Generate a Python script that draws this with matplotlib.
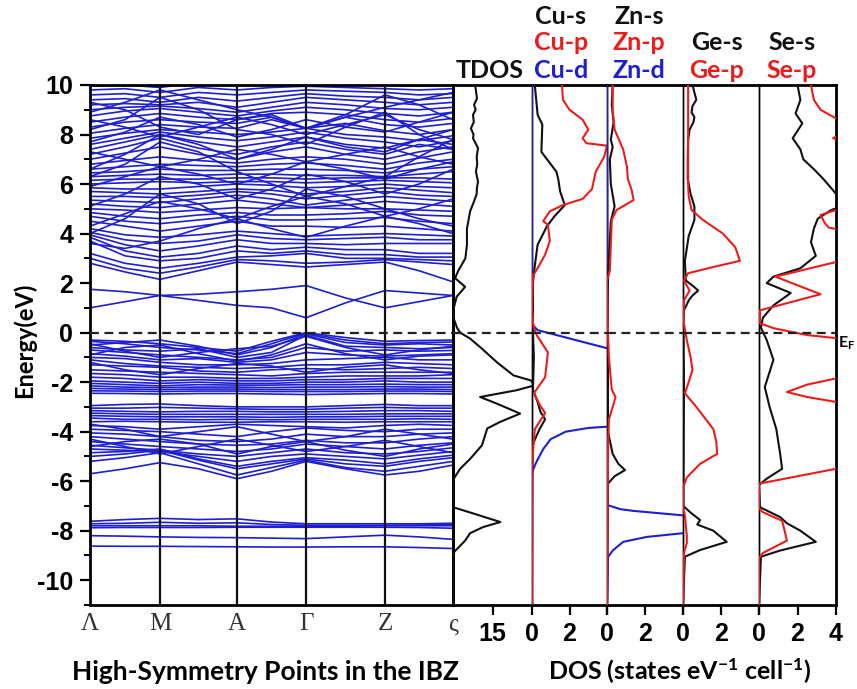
import numpy as np
import matplotlib
matplotlib.use("Agg")
import matplotlib.pyplot as plt
from matplotlib.ticker import MultipleLocator, FixedLocator
from matplotlib.font_manager import FontProperties

plt.rcParams['font.family'] = ['Liberation Sans', 'DejaVu Sans']
plt.rcParams['axes.unicode_minus'] = False
plt.rcParams['mathtext.fontset'] = 'custom'
plt.rcParams['mathtext.rm'] = 'Lato:bold'
plt.rcParams['mathtext.it'] = 'Lato:bold'
plt.rcParams['mathtext.bf'] = 'Lato:bold'
plt.rcParams['mathtext.default'] = 'rm'

BLUE = '#1e1ed2'
RED = '#ec1c1c'
BLACK = '#111111'

# ---------------- band structure ----------------
hs_labels = ['Λ', 'M', 'A', 'Γ', 'Z', 'ς']
hs_k = [0.0, 0.70, 1.47, 2.16, 2.95, 3.63]

# energies (eV) at Λ, mid, M, mid, A, mid, Γ, mid, Z, mid, ς
bands_semicore = [
    [-7.62, -7.55, -7.50, -7.55, -7.52, -7.65, -7.72, -7.72, -7.72, -7.72, -7.70],
    [-7.72, -7.70, -7.66, -7.70, -7.68, -7.75, -7.78, -7.78, -7.78, -7.77, -7.75],
    [-7.80, -7.80, -7.80, -7.80, -7.82, -7.82, -7.82, -7.82, -7.80, -7.80, -7.80],
    [-7.88, -7.87, -7.87, -7.87, -7.86, -7.86, -7.86, -7.86, -7.86, -7.87, -7.90],
    [-8.20, -8.22, -8.25, -8.27, -8.28, -8.30, -8.32, -8.25, -8.18, -8.25, -8.35],
    [-8.62, -8.63, -8.63, -8.64, -8.65, -8.66, -8.66, -8.65, -8.65, -8.68, -8.72],
]

bands_valence = [
    [-0.30, -0.35, -0.45, -0.60, -0.75, -0.35, 0.00, -0.20, -0.35, -0.32, -0.30],
    [-0.35, -0.45, -0.60, -0.70, -0.85, -0.45, -0.02, -0.30, -0.45, -0.40, -0.38],
    [-0.50, -0.40, -0.30, -0.55, -0.90, -0.60, -0.05, -0.40, -0.50, -0.45, -0.50],
    [-0.60, -0.70, -0.75, -0.65, -1.00, -0.80, -0.10, -0.55, -0.60, -0.65, -0.60],
    [-0.45, -0.75, -1.00, -0.80, -0.65, -0.55, -0.15, -0.60, -0.90, -0.70, -0.55],
    [-0.70, -0.80, -0.90, -1.00, -1.10, -1.00, -0.60, -0.75, -0.70, -0.75, -0.72],
    [-0.90, -0.60, -0.50, -0.85, -1.15, -0.90, -0.45, -0.85, -1.10, -0.95, -0.90],
    [-0.85, -0.95, -1.10, -1.05, -1.20, -1.10, -0.80, -0.90, -0.95, -0.90, -0.85],
    [-1.00, -1.05, -1.20, -1.30, -1.30, -1.25, -1.10, -1.05, -1.00, -1.10, -1.10],
    [-1.10, -1.25, -1.35, -1.40, -1.45, -1.40, -1.30, -1.30, -1.20, -1.25, -1.30],
    [-1.20, -1.50, -1.70, -1.45, -1.25, -1.35, -1.60, -1.40, -1.30, -1.50, -1.65],
    [-1.30, -1.35, -1.40, -1.55, -1.60, -1.50, -1.45, -1.50, -1.45, -1.40, -1.45],
    [-1.50, -1.55, -1.60, -1.65, -1.70, -1.75, -1.65, -1.60, -1.60, -1.60, -1.60],
    [-1.65, -1.70, -1.80, -1.80, -1.85, -1.85, -1.80, -1.75, -1.75, -1.75, -1.70],
    [-1.80, -1.85, -1.95, -1.90, -1.95, -1.95, -1.90, -1.90, -1.85, -1.85, -1.85],
    [-1.95, -2.00, -2.05, -2.00, -2.05, -2.05, -2.00, -2.00, -1.95, -2.00, -2.00],
    [-2.05, -2.10, -2.15, -2.10, -2.12, -2.12, -2.10, -2.10, -2.08, -2.10, -2.10],
    [-2.15, -2.20, -2.22, -2.20, -2.20, -2.22, -2.20, -2.20, -2.18, -2.20, -2.20],
    [-2.25, -2.28, -2.30, -2.28, -2.28, -2.30, -2.30, -2.30, -2.28, -2.28, -2.30],
    [-2.35, -2.36, -2.38, -2.36, -2.36, -2.38, -2.38, -2.38, -2.36, -2.36, -2.38],
    [-2.45, -2.46, -2.48, -2.46, -2.46, -2.48, -2.50, -2.48, -2.46, -2.46, -2.48],
    [-2.95, -2.90, -2.88, -2.95, -3.00, -3.00, -3.00, -2.95, -2.90, -2.95, -2.95],
    [-3.05, -3.05, -3.02, -3.05, -3.08, -3.10, -3.10, -3.05, -3.02, -3.05, -3.05],
    [-3.15, -3.18, -3.20, -3.18, -3.18, -3.20, -3.20, -3.18, -3.15, -3.15, -3.18],
    [-3.25, -3.28, -3.30, -3.30, -3.30, -3.30, -3.30, -3.30, -3.28, -3.28, -3.28],
    [-3.35, -3.38, -3.40, -3.40, -3.40, -3.42, -3.40, -3.40, -3.38, -3.38, -3.38],
    [-3.45, -3.50, -3.50, -3.52, -3.50, -3.52, -3.50, -3.50, -3.50, -3.48, -3.50],
    [-3.60, -3.58, -3.60, -3.62, -3.62, -3.60, -3.60, -3.62, -3.60, -3.60, -3.60],
    [-3.70, -3.90, -4.20, -4.00, -3.80, -4.10, -4.40, -4.20, -3.90, -4.10, -4.30],
    [-3.75, -3.80, -3.90, -3.80, -3.70, -3.75, -3.80, -3.85, -3.75, -3.70, -3.75],
    [-3.90, -3.95, -4.00, -4.10, -4.20, -4.00, -3.85, -3.95, -4.00, -3.90, -3.90],
    [-4.05, -4.10, -4.20, -4.35, -4.40, -4.30, -4.10, -4.20, -4.20, -4.10, -4.05],
    [-4.20, -4.30, -4.40, -4.50, -4.55, -4.50, -4.35, -4.45, -4.45, -4.30, -4.20],
    [-4.30, -4.60, -4.90, -4.60, -4.30, -4.55, -4.80, -4.60, -4.35, -4.60, -4.85],
    [-4.40, -4.50, -4.60, -4.70, -4.80, -4.70, -4.50, -4.60, -4.70, -4.55, -4.45],
    [-4.60, -4.40, -4.30, -4.50, -4.90, -4.60, -4.40, -4.75, -5.00, -4.70, -4.50],
    [-4.55, -4.65, -4.75, -4.90, -5.00, -4.85, -4.70, -4.85, -4.90, -4.80, -4.65],
    [-4.70, -4.75, -4.80, -5.00, -5.20, -5.00, -4.90, -5.00, -5.10, -4.95, -4.80],
    [-4.85, -4.80, -4.70, -5.10, -5.40, -5.20, -5.05, -5.15, -5.30, -5.10, -4.95],
    [-5.00, -4.90, -4.75, -5.15, -5.50, -5.30, -5.10, -5.30, -5.40, -5.20, -5.05],
    [-5.20, -5.05, -4.85, -5.30, -5.75, -5.45, -5.15, -5.45, -5.60, -5.40, -5.20],
    [-5.70, -5.50, -5.25, -5.50, -5.90, -5.60, -5.20, -5.50, -5.75, -5.60, -5.35],
]

bands_conduction = [
    [1.00, 1.25, 1.50, 1.30, 1.10, 1.00, 0.60, 1.20, 1.70, 1.60, 1.50],
    [1.75, 1.65, 1.50, 1.55, 1.65, 1.75, 1.90, 1.40, 1.00, 1.25, 1.50],
    [2.80, 2.45, 2.15, 2.50, 2.85, 2.75, 2.65, 2.75, 2.85, 2.50, 2.05],
    [3.00, 2.60, 2.40, 2.65, 2.95, 2.90, 2.80, 2.85, 2.95, 2.85, 2.75],
    [3.20, 2.80, 2.60, 2.80, 3.05, 3.10, 3.20, 3.00, 3.00, 2.95, 2.90],
    [3.60, 3.40, 3.70, 4.20, 4.60, 4.20, 3.85, 4.30, 4.70, 4.40, 4.00],
    [3.70, 3.10, 2.90, 3.00, 3.30, 3.20, 3.30, 3.15, 3.15, 3.05, 3.05],
    [3.85, 3.30, 3.05, 3.20, 3.50, 3.35, 3.45, 3.35, 3.35, 3.20, 3.20],
    [3.95, 3.55, 3.30, 3.50, 3.75, 3.60, 3.60, 3.55, 3.60, 3.60, 3.60],
    [4.05, 3.75, 3.60, 3.70, 3.95, 3.80, 3.75, 3.80, 3.85, 3.75, 3.75],
    [4.20, 3.95, 3.85, 3.95, 4.10, 4.00, 3.90, 3.95, 4.00, 3.95, 3.90],
    [4.30, 4.80, 5.30, 5.00, 4.60, 5.10, 5.50, 5.20, 4.70, 5.00, 5.40],
    [4.50, 4.30, 4.10, 4.30, 4.50, 4.30, 4.30, 4.25, 4.30, 4.20, 4.10],
    [4.70, 4.50, 4.40, 4.55, 4.70, 4.55, 4.55, 4.60, 4.65, 4.50, 4.40],
    [4.85, 4.70, 4.60, 4.75, 4.85, 4.75, 4.75, 4.80, 4.90, 4.75, 4.70],
    [5.00, 4.95, 4.85, 4.95, 5.05, 5.00, 5.05, 5.00, 5.00, 4.95, 4.90],
    [5.10, 5.60, 6.30, 6.00, 5.40, 5.80, 6.40, 6.10, 5.60, 6.00, 6.60],
    [5.20, 5.10, 5.05, 5.20, 5.35, 5.20, 5.05, 5.15, 5.30, 5.20, 5.10],
    [5.35, 5.30, 5.25, 5.40, 5.55, 5.40, 5.15, 5.35, 5.50, 5.40, 5.30],
    [5.50, 5.50, 5.45, 5.55, 5.70, 5.60, 5.40, 5.55, 5.70, 5.55, 5.50],
    [5.70, 5.65, 5.60, 5.70, 5.80, 5.75, 5.60, 5.70, 5.85, 5.75, 5.65],
    [5.85, 5.80, 5.80, 5.90, 6.00, 5.95, 5.85, 5.90, 6.00, 5.90, 5.85],
    [5.90, 6.30, 6.70, 6.40, 6.00, 6.40, 6.90, 6.60, 6.20, 6.60, 6.90],
    [6.00, 6.05, 6.10, 6.05, 6.10, 6.10, 6.05, 6.10, 6.15, 6.10, 6.05],
    [6.15, 6.20, 6.20, 6.20, 6.25, 6.25, 6.20, 6.25, 6.25, 6.25, 6.20],
    [6.30, 6.35, 6.40, 6.35, 6.40, 6.40, 6.35, 6.35, 6.30, 6.40, 6.50],
    [6.45, 6.50, 6.60, 6.55, 6.55, 6.60, 6.60, 6.55, 6.45, 6.60, 6.70],
    [6.60, 6.70, 6.80, 6.75, 6.70, 6.80, 6.85, 6.75, 6.60, 6.85, 7.00],
    [6.60, 7.20, 8.00, 7.60, 7.00, 7.40, 7.90, 7.50, 7.30, 7.80, 8.20],
    [6.80, 6.95, 7.10, 6.95, 6.85, 7.00, 7.10, 7.00, 6.80, 7.05, 7.30],
    [7.00, 7.25, 7.50, 7.20, 7.00, 7.30, 7.50, 7.20, 7.00, 7.30, 7.50],
    [7.20, 7.50, 7.85, 7.45, 7.20, 7.50, 7.70, 7.40, 7.20, 7.60, 7.40],
    [7.30, 7.00, 6.70, 7.00, 7.40, 7.20, 6.90, 7.20, 7.50, 7.10, 6.80],
    [7.40, 7.70, 8.00, 7.70, 7.50, 7.70, 7.90, 7.60, 7.45, 7.80, 7.60],
    [7.60, 7.85, 8.10, 7.90, 7.75, 7.90, 8.10, 7.85, 7.70, 7.50, 7.75],
    [7.70, 8.10, 8.70, 8.40, 7.90, 8.20, 8.60, 8.30, 8.10, 8.50, 8.90],
    [7.85, 8.05, 8.20, 8.10, 8.00, 8.10, 8.25, 8.00, 7.90, 7.75, 7.95],
    [8.05, 8.25, 8.40, 8.30, 8.25, 8.60, 8.25, 8.45, 8.15, 8.00, 8.20],
    [8.30, 8.50, 8.60, 8.50, 8.45, 8.70, 8.25, 8.70, 8.40, 8.30, 8.45],
    [8.50, 8.70, 8.85, 8.70, 8.60, 8.85, 8.90, 8.80, 8.60, 8.50, 8.65],
    [8.60, 8.30, 7.90, 8.30, 8.70, 8.40, 8.00, 8.40, 8.80, 8.20, 7.80],
    [8.75, 8.95, 9.05, 8.90, 8.75, 8.95, 9.10, 9.00, 8.85, 8.75, 8.90],
    [8.90, 9.30, 9.80, 9.40, 9.00, 8.70, 8.25, 8.70, 9.10, 9.40, 9.70],
    [9.00, 9.10, 9.15, 9.05, 8.90, 9.10, 9.30, 9.20, 9.05, 9.00, 9.10],
    [9.20, 9.25, 9.20, 9.30, 9.10, 9.30, 9.50, 9.40, 9.30, 9.20, 9.30],
    [9.40, 9.45, 9.30, 9.50, 9.35, 9.50, 9.65, 9.55, 9.50, 9.40, 9.50],
    [9.60, 9.65, 9.50, 9.70, 9.60, 9.70, 9.80, 9.75, 9.70, 9.60, 9.65],
    [9.80, 9.85, 9.70, 9.90, 9.80, 9.90, 9.95, 9.90, 9.85, 9.80, 9.85],
    [9.95, 10.0, 9.90, 10.1, 10.0, 10.05, 10.1, 10.05, 10.0, 9.95, 10.0],
    [9.30, 9.00, 8.30, 8.00, 8.60, 8.80, 8.25, 8.80, 9.60, 9.20, 8.60],
    [8.20, 8.60, 9.50, 9.00, 8.20, 8.00, 7.60, 8.30, 8.90, 8.00, 7.40],
    [6.30, 6.80, 7.70, 7.30, 6.50, 6.00, 5.50, 5.90, 6.30, 7.10, 7.80],
    [4.00, 4.60, 5.60, 5.20, 4.40, 4.90, 5.80, 5.50, 5.00, 4.60, 4.30],
]

# ---------------- density of states ----------------
tdos_E = [10.0, 9.7, 9.45, 9.2, 9.0, 8.8, 8.5, 8.25, 8.0, 7.85, 7.6, 7.45, 7.1, 6.8,
          6.5, 6.1, 5.85, 5.6, 5.25, 4.9, 4.2, 3.55, 3.0, 2.5, 2.2, 1.85, 1.45, 1.0,
          0.6, 0.2, 0.0, -0.24, -0.65, -1.2, -1.73, -1.93, -2.13, -2.33, -2.6, -2.87,
          -3.27, -3.6, -3.87, -4.55, -5.1, -5.5, -5.9, -6.1, -7.05, -7.3, -7.65,
          -7.85, -8.1, -8.4, -8.85, -9.0, -11.0]
tdos = [8.4, 8.8, 9.1, 8.0, 8.6, 7.6, 7.9, 6.8, 7.8, 7.6, 8.8, 9.5, 9.0, 9.2,
        8.7, 9.5, 9.1, 9.0, 7.8, 6.5, 5.3, 5.3, 4.7, 2.0, 0.8, 4.6, 1.4, 0.3,
        0.2, 1.5, 2.7, 6.5, 11.0, 16.7, 23.0, 29.5, 31.0, 24.0, 10.3, 16.7,
        25.5, 18.0, 13.0, 11.0, 6.5, 2.7, 0.3, 0.0, 0.0, 7.6, 18.0,
        11.5, 6.5, 4.6, 0.5, 0.0, 0.0]

cu_s_E = [10.0, 8.8, 8.4, 7.3, 6.85, 6.5, 6.2, 5.7, 5.15, 4.7, 4.3, 3.55, 2.7, 2.0,
          0.0, -1.0, -2.3, -2.8, -3.2, -3.5, -3.9, -4.5, -6.0, -11.0]
cu_s = [0.15, 0.3, 0.55, 0.5, 0.95, 1.3, 1.4, 1.5, 1.75, 1.2, 0.8, 0.3, 0.15, 0.05,
        0.05, 0.1, 0.05, 0.3, 0.45, 0.7, 0.4, 0.05, 0.0, 0.0]
cu_p_E = [10.0, 9.4, 9.0, 8.6, 8.2, 7.85, 7.65, 7.55, 7.1, 6.5, 5.8, 5.4, 5.15, 4.9,
          4.5, 4.35, 3.7, 3.15, 2.6, 2.3, 1.0, 0.4, 0.1, -0.1, -0.8, -1.8, -2.45,
          -2.9, -3.25, -3.6, -3.9, -5.3, -11.0]
cu_p = [1.6, 1.65, 2.0, 2.7, 3.0, 2.7, 2.9, 4.0, 3.85, 3.4, 3.2, 2.7, 1.65, 0.95,
        0.6, 0.85, 0.95, 0.7, 0.3, 0.05, 0.0, 0.05, 0.15, 0.25, 0.85, 0.7, 0.1,
        0.4, 0.7, 0.4, 0.15, 0.0, 0.0]
cu_d_E = [10.0, 0.5, 0.3, 0.1, -0.63, -2.0, -3.8, -3.85, -4.0, -4.3, -4.7, -5.2, -5.6, -11.0]
cu_d = [0.0, 0.0, 0.05, 0.3, 4.0, 8.0, 4.0, 3.0, 1.8, 1.0, 0.6, 0.25, 0.02, 0.0]

zn_s_E = [10.0, 9.2, 8.5, 7.8, 7.5, 7.0, 6.0, 5.1, 4.5, 3.0, 2.0, 0.0, -2.0, -4.0,
          -4.9, -5.3, -5.55, -5.8, -6.1, -11.0]
zn_s = [0.3, 0.25, 0.35, 0.2, 0.3, 0.15, 0.2, 0.4, 0.2, 0.1, 0.05, 0.02, 0.05, 0.05,
        0.3, 0.6, 0.95, 0.4, 0.05, 0.0]
zn_p_E = [10.0, 9.0, 8.2, 7.4, 6.7, 6.2, 5.75, 5.35, 4.95, 4.55, 3.5, 2.5, 2.1, 0.0,
          -1.0, -2.3, -2.6, -3.0, -3.5, -5.0, -11.0]
zn_p = [0.3, 0.3, 0.4, 0.85, 1.05, 1.1, 1.3, 1.4, 0.5, 0.25, 0.2, 0.15, 0.0, 0.05,
        0.1, 0.25, 0.45, 0.3, 0.1, 0.05, 0.0]
zn_d_E = [10.0, -6.97, -7.13, -7.2, -7.37, -7.7, -8.1, -8.25, -8.45, -8.8, -9.07, -11.0]
zn_d = [0.0, 0.05, 0.7, 1.4, 3.85, 8.0, 4.0, 2.1, 0.85, 0.3, 0.05, 0.0]

ge_s_E = [10.0, 9.7, 9.4, 9.15, 8.9, 8.7, 8.5, 8.2, 7.8, 7.0, 6.2, 5.6, 5.1, 4.55,
          3.9, 2.9, 2.1, 1.9, 1.7, 1.5, 1.3, 0.9, 0.5, -2.0, -7.0, -7.27, -7.57,
          -7.75, -8.0, -8.45, -8.78, -9.05, -11.0]
ge_s = [0.5, 0.6, 0.7, 0.5, 0.45, 0.6, 0.55, 0.35, 0.27, 0.25, 0.25, 0.4, 0.6, 0.6,
        0.3, 0.1, 0.15, 0.5, 0.8, 0.5, 0.3, 0.05, 0.02, 0.05, 0.02, 0.4, 0.9,
        0.75, 1.6, 2.3, 0.9, 0.1, 0.0]
ge_p_E = [10.0, 6.0, 5.5, 4.95, 4.55, 4.0, 3.45, 2.9, 2.65, 2.4, 2.1, 1.7, 1.3, 0.5,
          -0.3, -1.0, -1.5, -2.0, -2.45, -3.0, -3.5, -3.9, -4.4, -4.9, -5.3, -5.85,
          -6.25, -7.0, -7.4, -7.8, -8.2, -8.5, -8.9, -11.0]
ge_p = [0.27, 0.27, 0.3, 0.45, 1.05, 2.1, 2.75, 3.0, 1.6, 0.27, 0.05, 0.35, 0.05, 0.02,
        0.2, 0.4, 0.5, 0.3, 0.1, 0.7, 1.2, 1.6, 1.75, 1.8, 0.9, 0.2,
        0.0, 0.0, 0.1, 0.15, 0.2, 0.2, 0.05, 0.0]

se_s_E = [10.0, 9.4, 8.85, 8.45, 7.85, 7.4, 7.0, 6.6, 6.2, 5.7, 5.3, 5.1, 4.95, 4.6,
          4.2, 3.65, 3.1, 2.6, 2.26, 2.0, 1.6, 1.1, 0.6, 0.2, -0.3, -1.1, -2.2, -3.0,
          -3.9, -4.9, -5.5, -5.9, -6.15, -7.05, -7.45, -7.7, -8.0, -8.45, -8.8,
          -9.05, -11.0]
se_s = [2.0, 2.15, 1.9, 2.25, 1.75, 2.15, 2.3, 2.85, 3.35, 3.9, 4.3, 4.3, 3.75, 3.05,
        2.85, 2.7, 2.95, 2.15, 0.75, 0.4, 1.65, 0.75, 0.2, 0.1, 0.4, 0.75, 0.3, 0.55,
        0.9, 1.1, 1.2, 0.4, 0.0, 0.05, 1.1, 1.45, 2.15, 2.95, 1.1,
        0.1, 0.0]
se_p_E = [10.0, 9.4, 9.0, 8.65, 8.3, 8.0, 7.85, 7.7, 7.0, 5.5, 4.95, 4.75, 4.45, 4.25,
          4.1, 3.5, 2.85, 2.26, 1.55, 0.9, 0.38, 0.18, -0.1, -0.23, -1.0, -1.85,
          -2.1, -2.4, -2.6, -2.8, -4.0, -5.5, -5.8, -6.1, -7.1, -7.25, -7.6, -7.9,
          -8.4, -8.9, -9.1, -11.0]
se_p = [2.7, 2.85, 3.2, 4.0, 4.6, 4.2, 3.85, 4.4, 6.0, 6.0, 4.0, 3.2, 3.4, 3.6,
        4.5, 6.0, 4.0, 0.85, 3.2, 0.05, 0.05, 0.75, 2.5, 4.1, 6.0, 4.0,
        2.5, 1.45, 2.5, 4.0, 6.0, 4.0, 2.0, 0.0, 0.0, 0.2, 1.2, 1.3,
        1.45, 0.2, 0.0, 0.0]

# ---------------- figure layout ----------------
W, H = 857, 689
fig = plt.figure(figsize=(W / 100, H / 100), dpi=100)


def px_axes(x0, x1, y0, y1):
    return fig.add_axes([x0 / W, 1 - y1 / H, (x1 - x0) / W, (y1 - y0) / H])


E_MIN, E_MAX = -11, 10
TICK_FONT = FontProperties(family=['Liberation Sans', 'DejaVu Sans'], weight='bold', size=18)
DASH = dict(color='#222222', lw=1.6, ls=(0, (4, 2.5)), zorder=4)

# band structure panel
axb = px_axes(90, 453, 85, 605)
k_samples = []
for i in range(len(hs_k) - 1):
    k_samples += [hs_k[i], 0.5 * (hs_k[i] + hs_k[i + 1])]
k_samples.append(hs_k[-1])
for band in bands_semicore + bands_valence + bands_conduction:
    axb.plot(k_samples, band, color=BLUE, lw=1.2, solid_joinstyle='round')
for k in hs_k[1:-1]:
    axb.axvline(k, color=BLACK, lw=1.6, zorder=3)
axb.set_xlim(hs_k[0], hs_k[-1])
axb.set_ylim(E_MIN, E_MAX)
axb.set_xticks(hs_k)
axb.set_xticklabels(hs_labels, family=['Liberation Serif', 'DejaVu Serif'], size=18,
                    color='#333333')
axb.tick_params(axis='x', length=0, pad=6)
axb.yaxis.set_major_locator(FixedLocator([-10, -8, -6, -4, -2, 0, 2, 4, 6, 8, 10]))
axb.yaxis.set_minor_locator(MultipleLocator(1))
axb.tick_params(axis='y', which='major', direction='out', length=7, width=1.6, pad=5)
axb.tick_params(axis='y', which='minor', direction='out', length=4.5, width=1.4)
for lab in axb.get_yticklabels():
    lab.set_fontproperties(TICK_FONT)
for sp in axb.spines.values():
    sp.set_linewidth(2.0)
axb.axhline(0, **DASH)

# DOS panels
panels = [
    (453, 532, (0, 30), [15], ['15'], [(tdos, tdos_E, BLACK)]),
    (532, 607, (0, 4), [0, 2, 4], ['0', '2', ''], [(cu_d, cu_d_E, BLUE), (cu_s, cu_s_E, BLACK), (cu_p, cu_p_E, RED)]),
    (607, 683, (0, 4), [0, 2, 4], ['0', '2', ''], [(zn_d, zn_d_E, BLUE), (zn_s, zn_s_E, BLACK), (zn_p, zn_p_E, RED)]),
    (683, 759, (0, 4), [0, 2, 4], ['0', '2', ''], [(ge_s, ge_s_E, BLACK), (ge_p, ge_p_E, RED)]),
    (759, 836, (0, 4), [0, 2, 4], ['0', '2', '4'], [(se_s, se_s_E, BLACK), (se_p, se_p_E, RED)]),
]
for i, (x0, x1, xlim, ticks, labels, curves) in enumerate(panels):
    ax = px_axes(x0, x1, 85, 605)
    for vals, energies, col in curves:
        ax.plot(vals, energies, color=col, lw=1.5, zorder=3)
    ax.set_xlim(*xlim)
    ax.set_ylim(E_MIN, E_MAX)
    ax.set_yticks([])
    ax.set_xticks(ticks)
    ax.set_xticklabels(labels)
    for lab in ax.get_xticklabels():
        lab.set_fontproperties(TICK_FONT)
    ax.tick_params(axis='x', direction='out', length=7, width=1.6, pad=5)
    ax.spines['top'].set_linewidth(2.0)
    ax.spines['bottom'].set_linewidth(2.0)
    ax.spines['left'].set_linewidth(2.0 if i == 0 else 1.0)
    ax.spines['right'].set_linewidth(2.0 if i == len(panels) - 1 else 1.0)
    ax.axhline(0, **DASH)
    ax.patch.set_alpha(0)

# panel titles
TITLE_FONT = dict(family=['Lato', 'DejaVu Sans'], weight='bold', size=18)


def ftext(x, y, s, **kw):
    fig.text(x / W, 1 - y / H, s, ha='center', va='center', **kw)


ftext(490, 71, 'TDOS', color=BLACK, **TITLE_FONT)
for x, rows in [(561, [('Cu-s', BLACK), ('Cu-p', RED), ('Cu-d', BLUE)]),
                (639, [('Zn-s', BLACK), ('Zn-p', RED), ('Zn-d', BLUE)]),
                (717, [('Ge-s', BLACK), ('Ge-p', RED)]),
                (792, [('Se-s', BLACK), ('Se-p', RED)])]:
    ys = [16, 43, 70][-len(rows):]
    for (txt, col), y in zip(rows, ys):
        ftext(x, y, txt, color=col, **TITLE_FONT)

LABEL_FONT = dict(family=['Lato', 'DejaVu Sans'], weight='bold')
ftext(24, 340, 'Energy(eV)', rotation=90, size=17, **LABEL_FONT)
ftext(266, 672, 'High-Symmetry Points in the IBZ', size=19, **LABEL_FONT)
ftext(680, 671, r'DOS (states eV$^{-1}$ cell$^{-1}$)', size=18, **LABEL_FONT)
fig.text(838 / W, 1 - 343 / H, r'E$_{F}$', ha='left', va='center', size=11.5, **LABEL_FONT)

fig.savefig('out.png', dpi=100)
